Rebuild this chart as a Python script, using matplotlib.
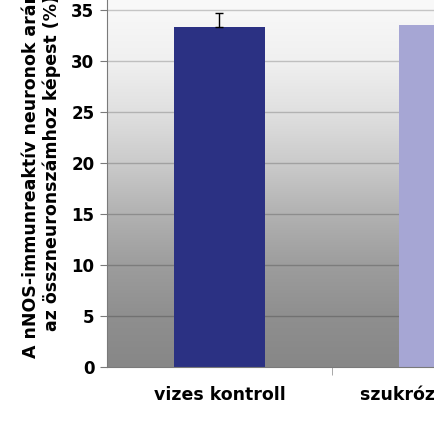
import matplotlib
matplotlib.use("Agg")
import matplotlib.pyplot as plt
import numpy as np
from matplotlib.colors import LinearSegmentedColormap

categories = ["vizes kontroll", "szukrózzal kezelt"]
values = [33.3, 33.5]
errors = [1.4, 0.0]
bar_colors = ["#2b3183", "#a6a6d4"]
yticks = [0, 5, 10, 15, 20, 25, 30, 35]
ylabel = "A nNOS-immunreaktív neuronok aránya\naz összneuronszámhoz képest (%)"

W, H = 435, 421
fig = plt.figure(figsize=(W / 100, H / 100), dpi=100)
fig.patch.set_facecolor("white")

left_px, zero_px, ppu = 107, 367, 10.2
ymax = 40
ax_h_px = ymax * ppu
ax_w_px = 450
ax = fig.add_axes([left_px / W, (H - zero_px) / H, ax_w_px / W, ax_h_px / H])
ax.set_xlim(-0.5, 1.5)
ax.set_ylim(0, ymax)

stops = [(0.0, "#878787"), (0.125, "#8f8f8f"), (0.25, "#9d9d9d"), (0.375, "#b2b2b2"),
         (0.5, "#cbcbcb"), (0.625, "#e0e0e0"), (0.75, "#f0f0f0"), (0.875, "#f8f8f8"),
         (1.0, "#fbfbfb")]
cmap = LinearSegmentedColormap.from_list("bg", stops)
grad = np.linspace(0, 1, 256).reshape(-1, 1)
ax.imshow(grad, cmap=cmap, aspect="auto", extent=[-0.5, 1.5, 0, ymax],
          origin="lower", zorder=0)

for yt in yticks[1:]:
    ax.axhline(yt, color="black", alpha=0.2, lw=1.0, zorder=1)

x = np.arange(len(categories))
ax.bar(x, values, width=0.405, color=bar_colors, zorder=2)
ax.errorbar(x[:1], values[:1], yerr=[[0], errors[:1]], fmt="none", ecolor="black",
            elinewidth=1.0, capsize=3, capthick=1.0, zorder=3)

for s in ["top", "right"]:
    ax.spines[s].set_visible(False)
ax.spines["left"].set_color("#7a7a7a")
ax.spines["bottom"].set_color("#7a7a7a")

ax.set_yticks(yticks)
ax.set_yticklabels([str(v) for v in yticks], fontsize=12, fontweight="bold",
                   family="DejaVu Sans")
ax.tick_params(axis="y", length=5, color="#7a7a7a", pad=4)

ax.set_xticks(x)
ax.set_xticklabels(categories, fontsize=12.5, fontweight="bold", family="DejaVu Sans")
ax.set_xticks([0.5], minor=True)
ax.tick_params(axis="x", which="major", length=0, pad=14)
ax.tick_params(axis="x", which="minor", length=6, color="#9a9a9a")

fig.text(41 / W, (H - 163) / H, ylabel, rotation=90, ha="center", va="center",
         fontsize=12.5, fontweight="bold", family="DejaVu Sans",
         multialignment="center", linespacing=1.2)

fig.savefig("out.png", dpi=100)
